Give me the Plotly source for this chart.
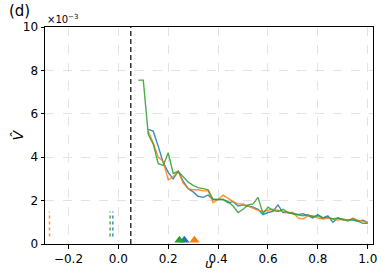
import plotly.graph_objects as go

# u grid (every 0.02 from 0.08 to 1.00)
u_vals = [round(0.08 + 0.02 * i, 2) for i in range(47)]

# V-hat values in units of 1e-3
green_v = [7.55, 7.55, 5.05, 4.6, 3.7, 3.62, 4.2, 3.25, 3.35, 3.1, 2.85, 2.7,
           2.6, 2.55, 2.5, 2.05, 2.05, 2.05, 1.95, 1.75, 1.45, 1.6, 1.8, 1.85,
           2.15, 1.4, 1.7, 1.55, 1.5, 1.6, 1.45, 1.4, 1.35, 1.3, 1.35, 1.25,
           1.3, 1.2, 1.25, 1.15, 1.2, 1.1, 1.1, 1.15, 1.05, 0.95, 0.95]
blue_v = [None, None, 5.28, 5.2, 4.5, 3.75, 3.3, 3.0, 3.35, 2.9, 2.55, 2.4,
          2.2, 2.15, 2.25, 2.05, 2.05, 2.05, 1.9, 1.95, 1.75, 1.8, 1.75, 1.7,
          1.6, 1.35, 1.45, 1.5, 1.8, 1.45, 1.45, 1.4, 1.35, 1.4, 1.3, 1.2,
          1.35, 1.2, 1.3, 1.0, 1.2, 1.15, 1.1, 1.1, 1.05, 1.1, 1.0]
orange_v = [None, None, 5.2, 4.65, 4.0, 3.8, 2.95, 3.1, 3.35, 2.8, 2.55, 2.5,
            2.5, 2.45, 2.45, 1.9, 2.05, 2.25, 2.1, 1.95, 1.85, 1.85, 1.75, 1.65,
            1.55, 1.5, 1.55, 1.6, 1.55, 1.5, 1.45, 1.45, 1.2, 1.15, 1.3, 1.3,
            1.2, 1.15, 1.2, 1.15, 1.1, 1.15, 1.05, 1.2, 1.1, 1.05, 0.98]

# dotted reference markers near u<0 (x position)
dotted_x = {"orange": -0.276, "green": -0.033, "blue": -0.022}
dotted_span = [0.35, 1.5]

# triangle markers on the axis
tri_x = {"green": 0.245, "blue": 0.265, "orange": 0.305}
tri_y = 0.17

threshold_u = 0.05

x_ticks = [-0.2, 0.0, 0.2, 0.4, 0.6, 0.8, 1.0]
x_tick_text = ["\u22120.2", "0.0", "0.2", "0.4", "0.6", "0.8", "1.0"]
y_ticks = [0, 2, 4, 6, 8, 10]
y_tick_text = ["0", "2", "4", "6", "8", "10"]

colors = {"blue": "#1f77b4", "orange": "#ff7f0e", "green": "#2ca02c"}

fig = go.Figure()

for name in ["orange", "green", "blue"]:
    fig.add_trace(go.Scatter(x=[dotted_x[name]] * 2, y=dotted_span, mode="lines",
                             line=dict(color=colors[name], width=1.5, dash="dot"),
                             opacity=0.85, showlegend=False, hoverinfo="skip"))

fig.add_trace(go.Scatter(x=[threshold_u, threshold_u], y=[0, 10], mode="lines",
                         line=dict(color="black", width=1.2, dash="5px,3px"),
                         showlegend=False))

for name, vals in [("blue", blue_v), ("orange", orange_v), ("green", green_v)]:
    fig.add_trace(go.Scatter(x=u_vals, y=vals, mode="lines",
                             line=dict(color=colors[name], width=1.4),
                             opacity=0.85, showlegend=False, connectgaps=False))

for name in ["orange", "blue", "green"]:
    fig.add_trace(go.Scatter(x=[tri_x[name]], y=[tri_y], mode="markers",
                             marker=dict(symbol="triangle-up", size=9, color=colors[name]),
                             showlegend=False, cliponaxis=False))

axis_common = dict(showline=True, linecolor="black", linewidth=1, mirror=True,
                   ticks="outside", ticklen=3.5, tickwidth=1, tickcolor="black",
                   showgrid=True, gridcolor="#e3e3e3", griddash="dash", gridwidth=0.8,
                   zeroline=False, tickfont=dict(family="DejaVu Sans", size=12, color="black"))

fig.update_xaxes(range=[-0.294, 1.021], tickvals=x_ticks, ticktext=x_tick_text, **axis_common)
fig.update_yaxes(range=[0, 10], tickvals=y_ticks, ticktext=y_tick_text, **axis_common)

fig.update_layout(
    width=381, height=272,
    margin=dict(l=45, r=8, t=27, b=28, autoexpand=False),
    plot_bgcolor="white", paper_bgcolor="white",
    font=dict(family="DejaVu Sans", color="black"),
    annotations=[
        dict(text="(d)", xref="paper", yref="paper", x=-0.079, y=1.0, xanchor="center",
             yanchor="bottom", yshift=5, showarrow=False, font=dict(size=15)),
        dict(text="\u00d710<sup>\u22123</sup>", xref="paper", yref="paper", x=0.0,
             y=1.0, xanchor="left", yanchor="bottom", showarrow=False, font=dict(size=10)),
        dict(text="<i>u</i>", xref="paper", yref="paper", x=0.5, y=0, xanchor="center",
             yanchor="bottom", yshift=-29, showarrow=False, font=dict(size=13)),
        dict(text="<i>V\u0302</i>", xref="paper", yref="paper", x=0, y=0.5,
             xanchor="center", yanchor="middle", xshift=-28, textangle=-90,
             showarrow=False, font=dict(size=14)),
    ],
)

fig.write_html("out.html", config={"displayModeBar": False},
               post_script="document.body.style.margin='0px';")
